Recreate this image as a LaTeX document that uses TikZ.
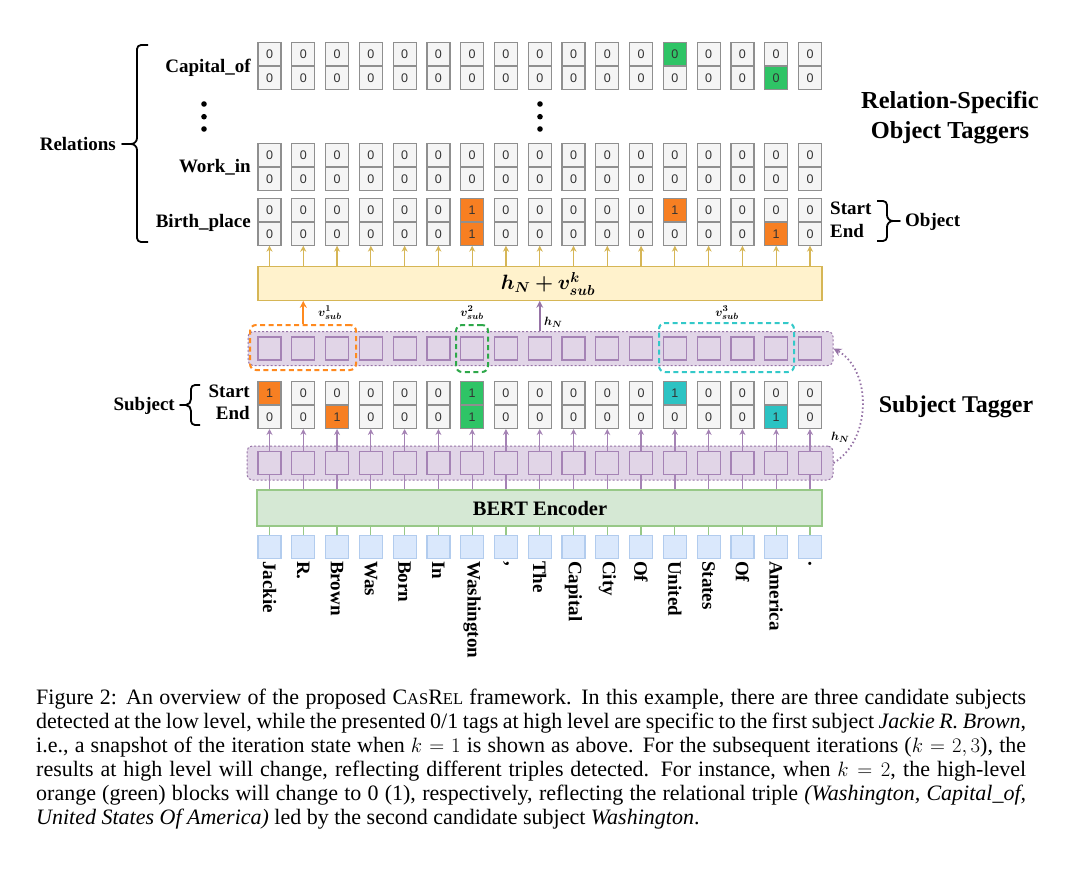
\documentclass[tikz,border=0pt]{standalone}
\usepackage{amsmath,bm}
\usepackage{fontspec}
\setmainfont{Liberation Serif}
\newfontfamily\cellfont{Liberation Sans}
\usetikzlibrary{arrows.meta}
\definecolor{cN}{HTML}{F5F5F5}
\definecolor{cO}{HTML}{F77F22}
\definecolor{cG}{HTML}{2FC466}
\definecolor{cC}{HTML}{2CC3C3}
\definecolor{cellline}{HTML}{8F8F8F}
\definecolor{yelfill}{HTML}{FFF2CC}
\definecolor{yelline}{HTML}{D6B656}
\definecolor{purfill}{HTML}{E1D5E7}
\definecolor{purline}{HTML}{9673A6}
\definecolor{sqline}{HTML}{A583B5}
\definecolor{bertfill}{HTML}{D5E8D4}
\definecolor{bertline}{HTML}{97C887}
\definecolor{tokfill}{HTML}{DAE8FC}
\definecolor{tokline}{HTML}{B2CCEE}
\definecolor{dorange}{HTML}{FF8A1F}
\definecolor{dgreen}{HTML}{2EA84A}
\definecolor{dcyan}{HTML}{33C9C9}
\tikzset{
  cellbox/.style={rectangle, draw=cellline, line width=1.2pt, minimum width=23pt, minimum height=22.8pt, inner sep=0pt, font=\cellfont\fontsize{12.5}{14}\selectfont, text=black!80},
  lbl/.style={inner sep=0pt, font=\fontsize{19}{22}\selectfont\bfseries},
  toklbl/.style={inner sep=0pt, rotate=-90, anchor=west, font=\fontsize{19}{22}\selectfont\bfseries},
  band/.style={rectangle, rounded corners=5pt, fill=purfill, draw=purline, line width=1pt, dash pattern=on 2pt off 2pt, inner sep=0pt},
  sqbox/.style={rectangle, draw=sqline, fill=purfill, line width=1.2pt, minimum width=23pt, minimum height=23pt, inner sep=0pt},
  tokbox/.style={rectangle, draw=tokline, fill=tokfill, line width=1.2pt, minimum width=23pt, minimum height=23pt, inner sep=0pt},
  selbox/.style={rectangle, rounded corners=6pt, line width=2pt, dash pattern=on 5pt off 3.5pt, inner sep=0pt},
  goldarrow/.style={draw=yelline, line width=1.2pt, -{Stealth[length=6pt,width=6pt]}},
  purarrow/.style={draw=sqline, line width=1.3pt, -{Stealth[length=6pt,width=6pt]}},
  bracepath/.style={line width=1.8pt, black, line join=round},
  smallmath/.style={inner sep=0pt, font=\fontsize{13}{15}\selectfont},
}
\newcommand\tagrow[3]{%
  \foreach \v/\w/\c/\d [count=\i from 0] in {#3} {
    \pgfmathsetmacro\cx{269.5+33.78*\i}
    \node[cellbox, fill=\c, anchor=south] (#1s\i) at (\cx, #2) {\v};
    \node[cellbox, fill=\d, anchor=north] (#1e\i) at (\cx, #2) {\w};
  }}
\begin{document}
\begin{tikzpicture}[x=1pt,y=-1pt]
\useasboundingbox (0,0) rectangle (1080,870);
\fill[white] (0,0) rectangle (1080,870);

% ---------- object taggers ----------
\tagrow{cap}{66}{0/0/cN/cN,0/0/cN/cN,0/0/cN/cN,0/0/cN/cN,0/0/cN/cN,0/0/cN/cN,0/0/cN/cN,0/0/cN/cN,0/0/cN/cN,0/0/cN/cN,0/0/cN/cN,0/0/cN/cN,0/0/cG/cN,0/0/cN/cN,0/0/cN/cN,0/0/cN/cG,0/0/cN/cN}
\tagrow{wrk}{166.7}{0/0/cN/cN,0/0/cN/cN,0/0/cN/cN,0/0/cN/cN,0/0/cN/cN,0/0/cN/cN,0/0/cN/cN,0/0/cN/cN,0/0/cN/cN,0/0/cN/cN,0/0/cN/cN,0/0/cN/cN,0/0/cN/cN,0/0/cN/cN,0/0/cN/cN,0/0/cN/cN,0/0/cN/cN}
\tagrow{bir}{221.7}{0/0/cN/cN,0/0/cN/cN,0/0/cN/cN,0/0/cN/cN,0/0/cN/cN,0/0/cN/cN,1/1/cO/cO,0/0/cN/cN,0/0/cN/cN,0/0/cN/cN,0/0/cN/cN,0/0/cN/cN,1/0/cO/cN,0/0/cN/cN,0/0/cN/cN,0/1/cN/cO,0/0/cN/cN}
\tagrow{sub}{405}{1/0/cO/cN,0/0/cN/cN,0/1/cN/cO,0/0/cN/cN,0/0/cN/cN,0/0/cN/cN,1/1/cG/cG,0/0/cN/cN,0/0/cN/cN,0/0/cN/cN,0/0/cN/cN,0/0/cN/cN,1/0/cC/cN,0/0/cN/cN,0/0/cN/cN,0/1/cN/cC,0/0/cN/cN}

% dots
\foreach \yy in {104,116.7,129} {
  \fill (204,\yy) circle (2.8pt);
  \fill (540,\yy) circle (2.8pt);
}

% relation labels
\node[lbl, anchor=base east] (lcap) at (251,72) {Capital\_of};
\node[lbl, anchor=base east] (lwrk) at (251,172) {Work\_in};
\node[lbl, anchor=base east] (lbir) at (251,227) {Birth\_place};
\node[lbl, anchor=base east] (lrel) at (116,150) {Relations};
\draw[bracepath] (148,45) -- (141,45) to[out=180,in=90] (137,49) -- (137,138) to[out=-90,in=0] (131,144) -- (122,144) -- (131,144) to[out=0,in=90] (137,150) -- (137,238) to[out=-90,in=180] (141,242) -- (148,242);

% object start/end
\node[lbl, anchor=base west] (ostart) at (830,214) {Start};
\node[lbl, anchor=base west] (oend) at (830,237) {End};
\draw[bracepath] (877,201) -- (883,201) to[out=0,in=90] (887,205) -- (887,215) to[out=-90,in=180] (893,221) -- (900,221) -- (893,221) to[out=180,in=90] (887,227) -- (887,237) to[out=-90,in=0] (883,241) -- (877,241);
\node[lbl, anchor=base west] (oobj) at (905,226) {Object};

\node[inner sep=0pt, anchor=base, font=\fontsize{24.4}{28}\selectfont\bfseries] (t1) at (950,108) {Relation-Specific};
\node[inner sep=0pt, anchor=base, font=\fontsize{24.4}{28}\selectfont\bfseries] (t2) at (950,138) {Object Taggers};

% ---------- yellow box ----------
\node[rectangle, fill=yelfill, draw=yelline, line width=1.2pt, minimum width=564pt, minimum height=33.5pt, inner sep=0pt] (yel) at (540,283.5) {};
\node[inner sep=0pt, font=\fontsize{20}{24}\selectfont] (yeltxt) at (548,284) {$\bm{h_N + v_{sub}^{k}}$};
\foreach \i in {0,...,16} {
  \draw[goldarrow] (yel.north -| bire\i.south) -- (bire\i.south);
}

% ---------- upper band ----------
\node[band, minimum width=585pt, minimum height=34pt] (uband) at (540.5,348.5) {};
\foreach \i in {0,...,16} {
  \pgfmathsetmacro\cx{269.5+33.78*\i}
  \node[sqbox] (uq\i) at (\cx,348.5) {};
}
\node[selbox, draw=dorange, minimum width=106pt, minimum height=45pt] (odash) at (303,347.5) {};
\node[selbox, draw=dgreen, minimum width=32pt, minimum height=47pt] (gdash) at (472,348.5) {};
\node[selbox, draw=dcyan, minimum width=135pt, minimum height=49pt] (cdash) at (726.5,347.5) {};

\draw[draw=dorange, line width=1.8pt, -{Stealth[length=7pt,width=7pt]}] (odash.north -| uq1) -- (yel.south -| uq1);
\draw[draw=purline, line width=1.8pt, -{Stealth[length=7pt,width=7pt]}] (uband.north -| uq8) -- (yel.south -| uq8);
\node[smallmath, anchor=west] (lv1) at (318,313) {$\bm{v_{sub}^{1}}$};
\node[smallmath, anchor=west] (lhn1) at (544,322) {$\bm{h_N}$};
\node[smallmath] (lv2) at (472,313) {$\bm{v_{sub}^{2}}$};
\node[smallmath] (lv3) at (727,313) {$\bm{v_{sub}^{3}}$};

% ---------- subject tagger ----------
\node[lbl, anchor=base east] (sstart) at (250,397) {Start};
\node[lbl, anchor=base east] (send) at (250,419.5) {End};
\node[lbl, anchor=base east] (ssub) at (175,410) {Subject};
\draw[bracepath] (200,385) -- (195,385) to[out=180,in=90] (191,389) -- (191,399) to[out=-90,in=0] (186,405) -- (180,405) -- (186,405) to[out=0,in=90] (191,411) -- (191,421) to[out=-90,in=180] (195,425) -- (200,425);
\node[inner sep=0pt, anchor=base, font=\fontsize{24}{28}\selectfont\bfseries] (stag) at (956,412) {Subject Tagger};

% ---------- lower band ----------
\node[band, minimum width=586pt, minimum height=34pt] (lband) at (540,463) {};
\node[rectangle, fill=bertfill, draw=bertline, line width=1.2pt, minimum width=565pt, minimum height=36pt, inner sep=0pt] (bert) at (539.5,508) {};
\node[inner sep=0pt, anchor=base, font=\fontsize{20.5}{24}\selectfont\bfseries] (berttxt) at (540,515) {BERT Encoder};
\foreach \i in {0,...,16} {
  \pgfmathsetmacro\cx{269.5+33.78*\i}
  \node[sqbox] (lq\i) at (\cx,463) {};
  \draw[draw=sqline, line width=1.3pt] (bert.north -| lq\i) -- (lq\i.south);
  \draw[purarrow] (lq\i.north) -- (sube\i.south);
}
\draw[draw=purline, line width=1.8pt, dash pattern=on 1.5pt off 2.5pt, -{Stealth[length=8pt,width=8pt]}] (lband.east) .. controls (872,440) and (872,370) .. (uband.east);
\node[smallmath, anchor=west] (lhn2) at (831,437) {$\bm{h_N}$};

% ---------- tokens ----------
\foreach \t [count=\i from 0] in {Jackie,R.,Brown,Was,Born,In,Washington,{,},The,Capital,City,Of,United,States,Of,America,.} {
  \pgfmathsetmacro\cx{269.5+33.78*\i}
  \node[tokbox] (tk\i) at (\cx,546.7) {};
  \draw[draw=bertline, line width=1.2pt] (tk\i.north) -- (bert.south -| tk\i);
  \node[toklbl] (tl\i) at (\cx,561) {\t};
}

% ---------- caption ----------
\node[anchor=north west, inner sep=0pt, text width=990pt, align=justify, font=\fontsize{22}{24}\selectfont] (cap) at (36,689) {%
Figure 2: An overview of the proposed C{\fontsize{16.5}{24}\selectfont AS}R{\fontsize{16.5}{24}\selectfont EL} framework. In this example, there are three candidate subjects\linebreak
detected at the low level, while the presented 0/1 tags at high level are specific to the first subject \textit{Jackie R. Brown},\linebreak
i.e., a snapshot of the iteration state when $k=1$ is shown as above. For the subsequent iterations ($k=2,3$), the\linebreak
results at high level will change, reflecting different triples detected. For instance, when $k=2$, the high-level\linebreak
orange (green) blocks will change to 0 (1), respectively, reflecting the relational triple \textit{(Washington, Capital\_of,}\linebreak
\textit{United States Of America)} led by the second candidate subject \textit{Washington}.};
\end{tikzpicture}
\end{document}
